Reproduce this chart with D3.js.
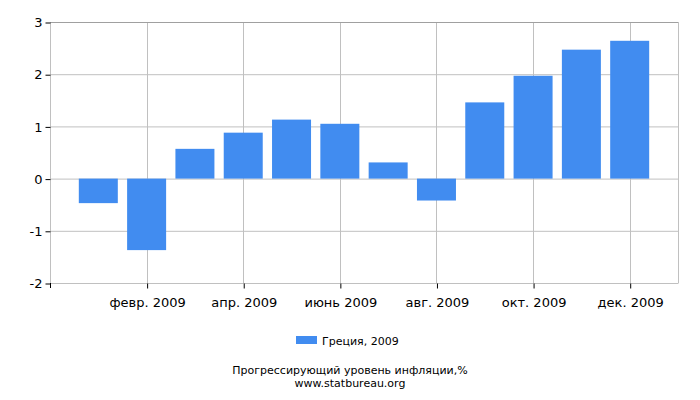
<!DOCTYPE html>
<html><head><meta charset="utf-8">
<script src="https://cdn.jsdelivr.net/npm/d3@7"></script>
<style>body{margin:0;background:#fff}svg{display:block;font-family:"DejaVu Sans",sans-serif}</style>
</head><body><svg id="c" width="700" height="400"></svg>
<script>
const months = ["янв. 2009","февр. 2009","март 2009","апр. 2009","май 2009","июнь 2009","июль 2009","авг. 2009","сент. 2009","окт. 2009","нояб. 2009","дек. 2009"];
const values = [-0.47,-1.37,0.57,0.88,1.13,1.05,0.31,-0.42,1.46,1.97,2.47,2.64];
const tickMonths = ["февр. 2009","апр. 2009","июнь 2009","авг. 2009","окт. 2009","дек. 2009"];
const yTicks = [-2,-1,0,1,2,3];
const seriesName = "Греция, 2009";
const titleLines = ["Прогрессирующий уровень инфляции,%","www.statbureau.org"];

const svg = d3.select("#c");
const L=50,R=678,T=22,B=283;
const x = d3.scalePoint().domain(["start"].concat(months,["end"])).range([L,R]);
const y = d3.scaleLinear().domain([-2,3]).range([B,T]);
const barW = 39;
const grid="#c0c0c0";

// horizontal grid
svg.append("g").selectAll("line").data(yTicks).join("line")
  .attr("x1",L).attr("x2",R).attr("y1",d=>y(d)+0.5).attr("y2",d=>y(d)+0.5)
  .attr("stroke",grid).attr("stroke-width",1);
// vertical grid
svg.append("g").selectAll("line").data(tickMonths).join("line")
  .attr("x1",d=>Math.round(x(d))+0.5).attr("x2",d=>Math.round(x(d))+0.5).attr("y1",T).attr("y2",B)
  .attr("stroke",grid);
// frame
svg.append("line").attr("x1",L+0.5).attr("x2",L+0.5).attr("y1",T).attr("y2",B).attr("stroke",grid);
svg.append("line").attr("x1",R+0.5).attr("x2",R+0.5).attr("y1",T).attr("y2",B).attr("stroke",grid);
svg.append("line").attr("x1",L).attr("x2",R).attr("y1",T+0.5).attr("y2",T+0.5).attr("stroke","#a0a0a0");

// bars
svg.append("g").selectAll("rect").data(values).join("rect")
  .attr("x",(d,i)=>x(months[i])-barW/2)
  .attr("width",barW)
  .attr("y",d=>y(Math.max(0,d)))
  .attr("height",d=>Math.abs(y(d)-y(0)))
  .attr("fill","#418cf0");

// y axis
const ya = svg.append("g").attr("transform",`translate(${L+0.5},0.5)`)
  .call(d3.axisLeft(y).tickValues(yTicks).tickSize(5).tickPadding(3).tickFormat(d=>String(d)));
ya.select(".domain").remove();
ya.selectAll("line").attr("stroke","#000");
ya.selectAll("text").attr("font-size",13).attr("fill","#000").attr("font-family","DejaVu Sans");

// x axis
const xa = svg.append("g").attr("transform",`translate(0.5,${B+0.5})`)
  .call(d3.axisBottom(x).tickValues(tickMonths).tickSize(5).tickPadding(9));
xa.select(".domain").attr("stroke",grid).attr("d",`M${L},0H${R}`);
xa.selectAll("line").attr("stroke","#000");
xa.selectAll("text").attr("font-size",13).attr("fill","#000").attr("font-family","DejaVu Sans");
svg.append("line").attr("x1",L+0.5).attr("x2",L+0.5).attr("y1",B).attr("y2",B+5).attr("stroke","#000");

// legend
svg.append("rect").attr("x",296).attr("y",336).attr("width",21).attr("height",8).attr("fill","#418cf0");
svg.append("text").attr("x",322).attr("y",345).attr("font-size",11).attr("fill","#000").text(seriesName);

// titles
svg.selectAll(".t").data(titleLines).join("text")
  .attr("x",350).attr("y",(d,i)=>373.5+i*13).attr("text-anchor","middle")
  .attr("font-size",11).attr("fill","#000").text(d=>d);
</script></body></html>
